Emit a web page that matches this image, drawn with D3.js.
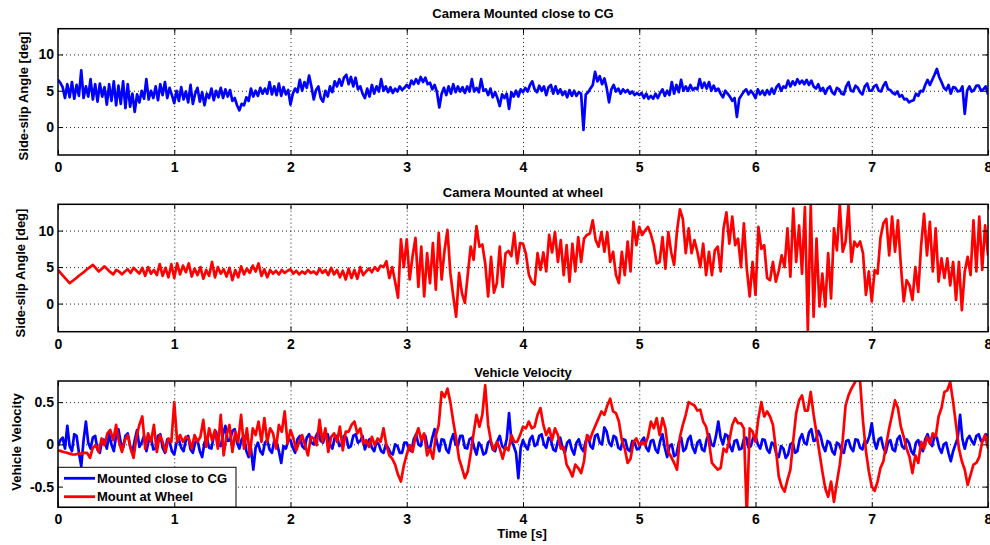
<!DOCTYPE html>
<html>
<head>
<meta charset="utf-8">
<script src="https://cdn.jsdelivr.net/npm/d3@7"></script>
<style>
  body { margin: 0; background: #fff; }
  text { font-family: "Liberation Sans", Arial, Helvetica, sans-serif; font-weight: bold; }
</style>
</head>
<body>
<svg id="fig" width="990" height="545"></svg>
<script>
// sample spacing of the two recordings (s)
var dtCG = 0.02;
var dtWheel = 0.025;

// side-slip angle, camera close to CG [deg]
var cgSlip = [
  6.5,6.1,5.5,4.0,5.9,4.1,6.2,3.9,5.8,4.3,7.8,4.0,5.6,4.2,6.6,3.8,5.9,3.5,6.0,4.2,5.5,3.1,5.9,3.6,6.3,3.0,5.7,3.2,6.3,2.6,5.9,2.8,4.6,2.1,4.5,3.4,5.0,3.9,6.6,3.8,5.0,4.0,5.6,3.7,5.9,4.4,6.2,4.0,5.4,4.4,
  3.3,5.0,3.6,5.5,3.8,4.9,3.4,5.8,3.2,4.6,5.4,3.5,4.8,3.0,4.6,4.0,5.3,3.7,5.0,4.1,5.4,4.0,5.2,4.2,5.1,3.6,4.0,3.0,2.3,3.2,3.0,4.1,3.6,5.3,4.2,5.0,4.3,5.4,4.6,5.3,4.6,6.2,4.5,5.6,4.4,6.0,4.3,5.5,4.5,5.1,
  3.1,4.6,5.3,4.8,6.5,5.0,6.2,5.4,7.1,5.6,3.8,5.1,5.6,4.0,3.5,5.0,4.2,5.6,4.8,6.3,5.6,6.6,5.7,6.8,7.2,5.9,6.9,5.6,6.8,5.2,5.6,4.6,4.0,5.3,4.2,5.8,4.6,5.6,4.9,6.6,5.0,5.6,4.8,5.5,4.7,5.3,4.9,5.6,5.1,5.4,
  5.8,5.4,6.4,5.9,6.6,6.0,6.9,6.2,6.8,5.9,6.1,5.2,5.8,4.8,2.7,4.6,5.4,4.4,5.6,4.6,5.9,4.8,5.6,4.9,5.5,4.7,5.6,4.9,6.6,4.9,5.4,4.8,6.6,5.0,5.2,4.4,5.3,4.1,4.8,4.0,2.9,4.5,4.0,4.6,2.5,4.8,4.2,5.0,4.2,5.2,
  4.8,5.4,4.9,5.8,6.3,5.2,4.8,5.7,5.0,5.6,4.4,5.5,5.8,4.6,5.6,4.6,5.2,4.4,4.9,4.1,5.1,4.3,5.0,4.3,4.8,4.6,-0.4,4.5,4.8,5.3,5.8,7.6,6.3,7.0,5.9,6.7,5.4,3.4,5.2,5.8,4.9,5.3,4.6,5.2,4.8,5.1,4.6,4.9,4.4,4.7,
  4.4,4.7,4.0,4.6,3.9,4.3,3.9,4.6,4.0,4.7,5.2,4.3,5.0,4.4,6.2,4.6,5.8,4.8,6.5,5.0,5.6,5.0,5.8,5.1,5.4,5.2,6.6,5.4,6.1,5.3,6.2,5.0,5.7,5.0,5.3,4.6,4.1,5.0,4.6,4.2,3.6,4.0,1.4,3.9,4.4,4.9,5.2,4.5,5.0,4.6,
  4.0,5.2,4.5,5.0,4.4,5.1,4.5,5.3,4.6,5.5,5.9,5.0,5.6,5.4,6.4,5.6,6.3,5.8,6.6,6.0,6.4,5.9,6.5,5.8,6.4,5.6,5.3,5.9,5.0,5.4,4.6,5.3,5.6,4.8,4.5,5.4,5.2,4.6,4.5,5.6,6.2,5.0,4.9,5.7,5.4,4.8,4.5,5.6,6.0,5.0,
  5.0,5.6,5.8,5.0,4.9,5.7,6.2,5.2,5.1,4.7,4.5,4.9,4.2,4.4,3.8,3.9,3.4,3.6,3.7,4.6,4.3,5.0,4.9,5.8,6.5,5.8,6.5,7.2,8.0,6.9,6.2,5.4,5.1,5.8,4.6,5.5,5.4,4.9,5.0,5.6,1.8,5.0,5.6,4.9,5.1,5.7,5.7,5.0,5.2,5.6,
  4.5
];

// side-slip angle, camera at wheel [deg]
var wheelSlip = [
  4.6,4.15,3.7,3.25,2.8,3.1,3.4,3.75,4.05,4.35,4.7,5.0,5.3,4.85,4.4,4.75,5.1,4.7,4.3,4.0,4.6,4.4,4.0,4.4,4.7,4.2,4.9,4.5,4.1,4.9,3.8,5.0,4.1,4.6,3.9,5.4,3.8,4.9,3.6,5.4,
  3.5,5.5,4.0,5.2,4.3,5.5,3.7,4.8,3.9,5.0,3.4,4.6,3.8,5.7,3.6,5.0,4.1,4.7,3.7,4.9,3.2,4.6,3.6,5.1,4.0,4.8,4.2,5.2,4.4,5.5,3.8,4.7,3.6,4.6,4.1,4.5,4.0,4.6,4.2,4.5,
  4.7,4.1,4.5,4.0,4.4,4.1,4.6,4.2,4.4,4.0,4.8,4.2,4.6,3.9,4.9,4.0,4.6,3.6,4.5,3.3,4.8,3.5,4.6,3.4,5.0,3.9,4.4,4.8,4.3,5.0,4.5,5.2,5.0,5.8,3.5,5.0,3.0,0.8,8.8,5.0,
  8.8,3.3,6.5,9.0,2.3,7.8,1.0,6.9,2.8,8.3,1.9,9.7,3.3,7.3,10.1,4.2,1.0,-1.8,4.2,1.4,0.1,4.0,7.8,6.0,10.6,7.8,8.1,5.5,1.0,6.4,1.5,2.8,7.8,2.3,6.9,7.2,6.5,9.7,5.5,8.3,
  8.2,6.8,4.0,3.0,2.6,6.9,4.6,7.0,4.4,9.4,7.0,9.8,5.7,8.7,3.9,8.0,3.0,8.2,4.4,9.1,5.7,8.9,9.4,9.6,11.4,8.7,7.8,9.8,7.1,9.8,5.7,7.1,3.9,2.8,7.1,3.9,8.5,4.4,11.2,8.0,
  10.5,9.4,10.0,10.5,9.5,8.0,5.5,5.7,9.1,4.8,9.8,7.0,5.3,10.0,12.9,11.6,6.9,10.3,6.9,8.7,7.1,5.0,8.2,3.9,7.1,3.9,7.3,7.8,4.4,10.3,12.5,8.2,11.9,8.0,8.9,5.0,11.0,4.8,1.0,5.7,
  1.2,10.5,7.5,8.0,3.5,3.2,5.7,3.0,4.5,6.6,5.0,10.3,3.7,13.0,5.7,10.7,4.1,13.2,-3.6,13.5,-1.8,8.9,-0.4,4.1,-0.4,6.9,0.7,10.3,7.3,13.5,7.1,8.5,13.5,5.7,8.5,7.8,8.5,6.9,1.2,4.4,
  0.3,4.6,4.1,9.0,11.0,11.6,6.6,11.9,7.1,11.4,5.3,0.3,3.2,2.5,0.5,5.0,1.6,8.0,12.3,6.6,11.2,4.4,10.3,3.0,6.2,3.5,6.2,2.5,5.7,0.5,5.7,-0.9,4.4,6.4,3.9,11.4,4.4,11.9,4.6,10.7,
  6.6
];

// vehicle velocity, camera close to CG
var cgVel = [
  -0.02,0.05,0.08,-0.05,0.22,-0.02,-0.08,0.12,0.10,-0.10,-0.26,0.05,0.27,0.02,-0.05,0.08,0.10,-0.06,-0.10,0.06,0.05,-0.05,0.12,0.00,-0.08,0.10,0.18,0.02,-0.04,0.10,0.13,-0.02,-0.10,0.05,0.17,-0.03,0.02,0.10,-0.08,0.04,0.08,-0.06,-0.05,0.10,0.12,-0.04,-0.10,0.06,0.03,-0.08,
  -0.12,0.02,0.06,-0.04,-0.08,0.05,0.10,-0.06,-0.10,0.02,0.05,-0.08,-0.15,0.02,0.08,-0.04,-0.05,0.10,0.15,0.00,-0.02,0.12,0.22,0.04,0.05,0.16,0.18,0.02,-0.05,0.06,0.10,-0.08,-0.15,-0.05,-0.30,-0.04,0.02,-0.08,-0.12,0.02,0.05,-0.06,-0.10,0.04,0.03,-0.08,-0.22,-0.02,-0.05,0.04,
  0.05,-0.04,-0.10,0.06,0.10,-0.02,-0.05,0.08,0.12,0.02,0.00,0.10,0.15,0.04,0.02,0.12,0.12,0.00,-0.05,0.08,0.10,-0.02,0.00,0.10,0.08,-0.04,-0.02,0.10,0.12,0.02,0.04,0.10,-0.06,0.02,0.06,-0.04,-0.08,0.03,0.00,-0.08,-0.10,0.00,-0.04,-0.10,-0.12,0.00,-0.02,-0.10,-0.10,0.02,
  0.02,-0.06,-0.08,0.06,0.12,0.00,-0.02,0.10,0.10,-0.04,-0.05,0.08,0.18,0.02,-0.08,0.06,0.05,-0.06,-0.10,0.04,0.12,0.00,-0.02,0.10,0.10,-0.04,-0.05,0.06,0.08,-0.04,-0.12,0.02,-0.02,-0.12,-0.10,0.02,0.05,-0.06,-0.08,0.04,0.10,-0.02,-0.05,0.06,0.37,0.04,-0.02,-0.10,-0.40,-0.04,
  0.05,-0.02,-0.06,0.06,0.10,-0.02,0.00,0.10,0.12,0.00,-0.04,0.08,0.05,-0.06,-0.08,0.04,0.08,-0.04,-0.10,0.02,0.05,-0.06,-0.12,0.02,0.06,-0.04,-0.08,0.04,0.10,-0.02,-0.05,0.10,0.12,0.02,0.00,0.20,0.15,0.02,-0.02,0.10,0.08,-0.04,-0.06,0.06,0.05,-0.06,-0.08,0.04,0.02,-0.06,
  -0.05,0.04,0.08,-0.04,-0.08,0.04,0.05,-0.06,-0.10,0.04,0.12,-0.04,-0.15,-0.02,0.00,-0.14,-0.12,0.02,0.08,-0.08,-0.05,0.06,0.10,-0.04,-0.10,0.02,0.05,-0.06,-0.08,0.06,0.12,0.00,-0.02,0.10,0.27,0.08,0.00,0.12,0.10,-0.02,-0.08,0.04,0.05,-0.06,-0.05,0.06,0.08,-0.04,-0.02,0.08,
  0.10,0.00,-0.05,0.06,0.05,-0.06,-0.10,0.02,0.00,-0.12,-0.15,-0.02,-0.05,-0.16,-0.12,0.00,0.02,-0.10,-0.08,0.06,0.12,0.02,0.00,0.14,0.18,0.04,0.05,0.16,0.10,-0.02,-0.08,0.04,0.02,-0.08,-0.12,0.02,0.00,-0.08,-0.10,0.04,0.05,-0.04,-0.08,0.06,0.05,-0.04,-0.06,0.04,0.02,0.10,
  0.25,0.04,-0.05,0.06,0.08,-0.04,-0.10,0.02,0.05,-0.06,-0.08,0.06,0.10,-0.02,-0.05,0.06,0.02,-0.08,-0.12,0.02,0.05,-0.04,-0.08,0.06,0.12,0.02,-0.02,0.10,0.08,-0.04,-0.10,0.00,0.02,-0.10,-0.20,-0.08,0.00,0.08,0.35,0.06,-0.05,0.06,0.10,0.04,0.00,0.10,0.12,0.04,0.05,0.12,
  0.10
];

// vehicle velocity, camera at wheel
var wheelVel = [
  -0.07,-0.08,-0.09,-0.10,-0.11,-0.12,-0.12,-0.11,-0.11,-0.10,-0.10,-0.16,-0.04,-0.01,-0.09,0.07,-0.01,0.13,0.17,0.05,0.23,0.03,-0.09,0.05,0.11,-0.05,-0.16,0.09,0.23,0.33,-0.05,0.13,0.03,0.23,-0.09,0.11,0.03,-0.09,0.07,0.03,
  0.50,0.03,0.11,0.03,0.09,0.07,-0.05,0.11,0.03,0.09,0.29,-0.03,0.19,0.05,0.17,-0.05,0.35,-0.13,0.11,0.23,-0.09,0.15,0.03,0.35,-0.05,0.19,-0.13,0.19,0.11,0.27,0.03,0.31,0.03,0.19,0.13,-0.05,0.23,0.15,0.39,0.01,
  0.17,0.07,-0.07,0.03,0.11,-0.01,-0.13,0.09,0.07,-0.01,0.29,0.03,0.19,-0.09,0.09,0.13,0.03,0.21,-0.07,0.15,0.15,0.23,0.27,0.13,0.19,0.01,0.05,-0.03,0.09,-0.01,0.07,0.03,0.19,-0.01,-0.13,-0.17,-0.24,-0.36,-0.44,-0.25,
  -0.12,-0.01,-0.09,0.09,0.19,0.05,0.13,-0.13,-0.05,-0.17,0.10,0.23,0.62,0.56,0.66,0.50,0.27,0.07,-0.17,-0.28,-0.40,-0.32,-0.11,0.13,0.35,0.21,0.35,0.70,0.23,0.03,-0.07,0.03,-0.05,-0.17,-0.03,-0.07,0.11,0.03,0.03,0.11,
  0.21,0.19,0.27,0.19,0.21,0.35,0.43,0.23,0.11,0.19,0.05,0.19,0.11,-0.05,-0.03,-0.24,-0.30,-0.38,-0.24,-0.28,-0.34,-0.20,0.11,0.05,0.15,0.23,0.31,0.39,0.35,0.46,0.54,0.39,0.37,0.27,0.05,-0.05,-0.22,-0.17,0.03,0.07,
  -0.01,0.03,-0.01,0.09,0.27,0.19,0.31,0.11,0.31,0.19,-0.09,-0.15,-0.22,-0.30,0.09,0.23,0.35,0.50,0.48,0.46,0.40,0.41,0.27,0.21,0.03,-0.22,-0.26,-0.30,-0.28,-0.05,-0.09,0.05,0.23,0.31,0.25,0.25,0.19,-0.85,0.19,0.15,
  0.03,0.31,0.50,0.33,0.39,0.33,0.23,-0.05,-0.38,-0.50,-0.56,-0.42,-0.30,0.05,0.37,0.52,0.58,0.40,0.40,0.62,0.35,0.13,-0.10,-0.32,-0.52,-0.62,-0.44,-0.68,-0.45,-0.24,0.05,0.46,0.58,0.66,0.72,0.78,0.74,0.27,-0.08,-0.32,
  -0.50,-0.55,-0.44,-0.28,-0.20,0.0,0.19,0.35,0.52,0.43,0.21,0.09,-0.05,-0.15,-0.34,-0.13,-0.22,0.03,-0.05,0.09,0.01,0.13,0.09,0.33,0.43,0.62,0.64,0.74,0.50,0.23,-0.05,-0.20,-0.30,-0.48,-0.36,-0.24,-0.22,-0.15,0.03,0.11,
  -0.05
];

var xTicks = [0, 1, 2, 3, 4, 5, 6, 7, 8];
var slipTicks = [0, 5, 10];
var velTicks = [-0.5, 0, 0.5];
var legendLabels = ["Mounted close to CG", "Mount at Wheel"];

var blue = "#0000ff", red = "#ff0000";
var left = 58, right = 988;
var svg = d3.select("#fig");
var x = d3.scaleLinear().domain([0, 8]).range([left, right]);

var panels = [
  { id: 1, top: 28.7, bottom: 155, yDomain: [-3.85, 13.55], ticks: slipTicks,
    title: "Camera Mounted close to CG", titleY: 18,
    ylabel: "Side-slip Angle [deg]", ylabelX: 27.5, ylabelY: 96,
    series: [{ values: cgSlip, dt: dtCG, color: blue }] },
  { id: 2, top: 204.3, bottom: 331.7, yDomain: [-3.85, 13.6], ticks: slipTicks,
    title: "Camera Mounted at wheel", titleY: 196.5,
    ylabel: "Side-slip Angle [deg]", ylabelX: 24.5, ylabelY: 273,
    series: [{ values: wheelSlip, dt: dtWheel, color: red }] },
  { id: 3, top: 381, bottom: 507.3, yDomain: [-0.745, 0.75], ticks: velTicks,
    title: "Vehicle Velocity", titleY: 376.5,
    ylabel: "Vehicle Velocity", ylabelX: 20.5, ylabelY: 442,
    series: [{ values: cgVel, dt: dtCG, color: blue }, { values: wheelVel, dt: dtWheel, color: red }],
    legend: true }
];

function styleAxis(sel) {
  sel.select(".domain").remove();
  sel.attr("font-size", 14)
     .attr("font-family", "'Liberation Sans', Arial, Helvetica, sans-serif")
     .attr("font-weight", "bold");
  sel.selectAll("line").attr("stroke", "#000").attr("stroke-width", 1);
  sel.selectAll("text").attr("fill", "#000");
}

panels.forEach(function(p) {
  var w = right - left, h = p.bottom - p.top;
  var y = d3.scaleLinear().domain(p.yDomain).range([p.bottom, p.top]);
  var g = svg.append("g");

  g.append("clipPath").attr("id", "clip" + p.id)
    .append("rect").attr("x", left).attr("y", p.top).attr("width", w).attr("height", h);

  // dotted grid
  g.append("g").attr("transform", `translate(0,${p.bottom})`)
    .call(d3.axisBottom(x).tickValues(xTicks.slice(1, -1)).tickSize(-h).tickFormat(""))
    .call(function(s) { s.select(".domain").remove(); })
    .selectAll("line").attr("stroke", "#222").attr("stroke-dasharray", "1,3");
  g.append("g").attr("transform", `translate(${left},0)`)
    .call(d3.axisLeft(y).tickValues(p.ticks).tickSize(-w).tickFormat(""))
    .call(function(s) { s.select(".domain").remove(); })
    .selectAll("line").attr("stroke", "#222").attr("stroke-dasharray", "1,3");

  // data lines
  p.series.forEach(function(s) {
    var line = d3.line()
      .x(function(d, i) { return x(i * s.dt); })
      .y(function(d) { return y(d); });
    g.append("path").datum(s.values)
      .attr("clip-path", `url(#clip${p.id})`)
      .attr("fill", "none")
      .attr("stroke", s.color)
      .attr("stroke-width", 2.7)
      .attr("stroke-linejoin", "round")
      .attr("d", line);
  });

  // legend
  if (p.legend) {
    var lg = g.append("g");
    lg.append("rect").attr("x", left).attr("y", 467.3).attr("width", 178).attr("height", p.bottom - 467.3)
      .attr("fill", "#fff").attr("stroke", "#000").attr("stroke-width", 1);
    [blue, red].forEach(function(c, i) {
      var ly = 478.3 + i * 18.4;
      lg.append("line").attr("x1", 64).attr("x2", 95).attr("y1", ly).attr("y2", ly)
        .attr("stroke", c).attr("stroke-width", 2.8);
      lg.append("text").attr("x", 97).attr("y", ly + 4.6).attr("font-size", 13).text(legendLabels[i]);
    });
  }

  // axes with inward ticks on all four sides
  g.append("g").attr("transform", `translate(0,${p.bottom})`)
    .call(d3.axisBottom(x).tickValues(xTicks).tickSize(-5).tickPadding(7).tickFormat(d3.format("d")))
    .call(styleAxis);
  g.append("g").attr("transform", `translate(0,${p.top})`)
    .call(d3.axisTop(x).tickValues(xTicks).tickSize(-5).tickFormat(""))
    .call(styleAxis);
  g.append("g").attr("transform", `translate(${left},0)`)
    .call(d3.axisLeft(y).tickValues(p.ticks).tickSize(-5).tickPadding(4).tickFormat(function(d) { return String(d); }))
    .call(styleAxis);
  g.append("g").attr("transform", `translate(${right},0)`)
    .call(d3.axisRight(y).tickValues(p.ticks).tickSize(-5).tickFormat(""))
    .call(styleAxis);

  g.append("rect").attr("x", left).attr("y", p.top).attr("width", w).attr("height", h)
    .attr("fill", "none").attr("stroke", "#000").attr("stroke-width", 1.5);

  g.append("text").attr("x", (left + right) / 2).attr("y", p.titleY)
    .attr("text-anchor", "middle").attr("font-size", 13).text(p.title);

  g.append("text")
    .attr("transform", `translate(${p.ylabelX},${p.ylabelY}) rotate(-90)`)
    .attr("text-anchor", "middle").attr("font-size", 13).text(p.ylabel);
});

svg.append("text").attr("x", 522).attr("y", 538)
  .attr("text-anchor", "middle").attr("font-size", 13).text("Time [s]");
</script>
</body>
</html>
